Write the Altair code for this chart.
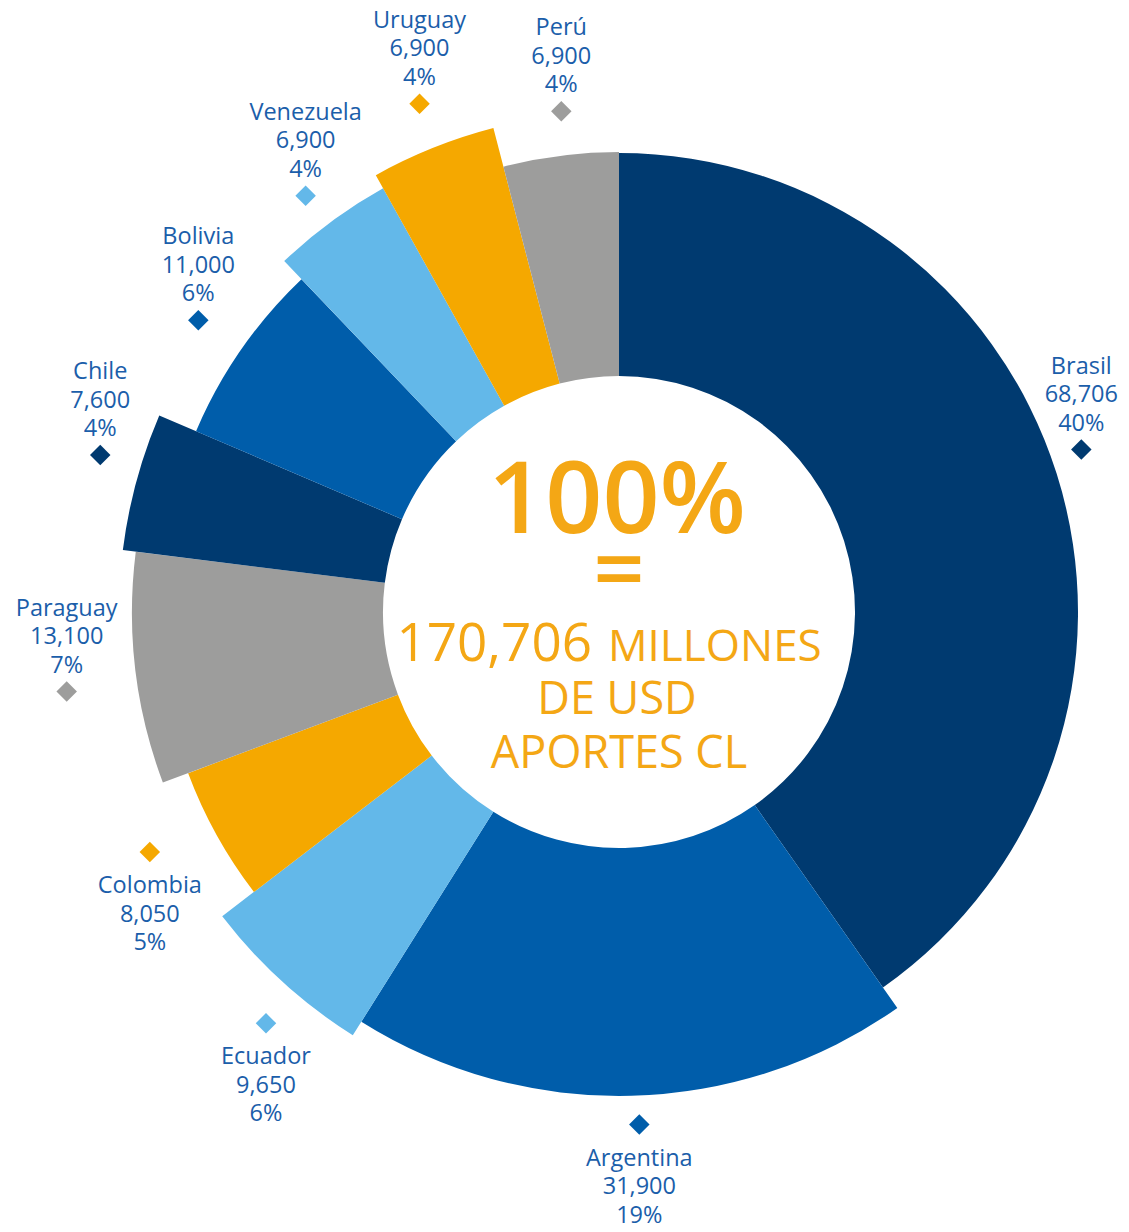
import altair as alt
import pandas as pd

countries = ["Brasil", "Argentina", "Ecuador", "Colombia", "Paraguay",
             "Chile", "Bolivia", "Venezuela", "Uruguay", "Perú"]
values = [68706, 31900, 9650, 8050, 13100, 7600, 11000, 6900, 6900, 6900]
value_labels = ["68,706", "31,900", "9,650", "8,050", "13,100",
                "7,600", "11,000", "6,900", "6,900", "6,900"]
pct_labels = ["40%", "19%", "6%", "5%", "7%", "4%", "6%", "4%", "4%", "4%"]
slice_colors = ["#003A70", "#005DAA", "#63B8E9", "#F5A800", "#9D9D9C",
                "#003A70", "#005DAA", "#63B8E9", "#F5A800", "#9D9D9C"]
outer_radius = [459, 484, 500, 460, 487, 500, 460, 485, 500, 460]
label_radius = [490, 513, 542, 527, 558, 542, 512, 521, 546, 504]
label_angle_nudge = [-1.8, -0.8, -1.7, 1.9, -1.5, 1.7, 0.0, -0.6, 0.4, 0.7]
label_side = ["above", "below", "below", "below", "above",
              "above", "above", "above", "above", "above"]

CX, CY = 611, 604
INNER = 236
FONT = "Open Sans"
LABEL_COLOR = "#1B5EAA"
ORANGE = "#F4A715"

df = pd.DataFrame({
    "idx": list(range(len(countries))),
    "country": countries,
    "value": values,
    "vlab": value_labels,
    "pct": pct_labels,
    "r_out": outer_radius,
    "r_lab": label_radius,
    "nudge": label_angle_nudge,
    "side": label_side,
})

base = alt.Chart(df).transform_joinaggregate(
    total="sum(value)"
).transform_window(
    cum="sum(value)", sort=[alt.SortField("idx", order="ascending")], frame=[None, 0]
).transform_calculate(
    t0="(datum.cum - datum.value) / datum.total * 2 * PI",
    t1="datum.cum / datum.total * 2 * PI",
).transform_calculate(
    tm="(datum.t0 + datum.t1) / 2 + datum.nudge * PI / 180",
).transform_calculate(
    px=f"{CX} + datum.r_lab * sin(datum.tm)",
    py=f"{CY} - datum.r_lab * cos(datum.tm)",
).transform_calculate(
    ty="datum.side == 'above' ? datum.py - 83 : datum.py + 34",
    label="datum.country + '\\n' + datum.vlab + '\\n' + datum.pct",
)

color = alt.Color("country:N", scale=alt.Scale(domain=countries, range=slice_colors), legend=None)

arcs = base.mark_arc(stroke=None).encode(
    theta=alt.Theta("t0:Q", scale=None, stack=None),
    theta2=alt.Theta2("t1:Q"),
    radius=alt.Radius("r_out:Q", scale=None),
    radius2=alt.value(INNER),
    x=alt.value(CX),
    y=alt.value(CY),
    color=color,
)

diamonds = base.mark_point(shape="diamond", filled=True, opacity=1, size=420).encode(
    x=alt.X("px:Q", scale=None),
    y=alt.Y("py:Q", scale=None),
    color=color,
)

labels = base.mark_text(
    font=FONT, fontSize=23.5, color=LABEL_COLOR, align="center", baseline="middle",
    lineBreak="\n", lineHeight=28.5,
).encode(
    x=alt.X("px:Q", scale=None),
    y=alt.Y("ty:Q", scale=None),
    text="label:N",
)

center_df = pd.DataFrame({"k": [0]})
cbase = alt.Chart(center_df)

t100 = cbase.mark_text(font=FONT, fontSize=100, fontWeight=600, color=ORANGE,
                       align="center", baseline="alphabetic", text="100%").encode(
    x=alt.value(609), y=alt.value(525))
teq = cbase.mark_text(font=FONT, fontSize=90, fontWeight=600, color=ORANGE,
                      align="center", baseline="alphabetic", text="=").encode(
    x=alt.value(CX), y=alt.value(593))
tnum = cbase.mark_text(font=FONT, fontSize=53, color=ORANGE,
                       align="right", baseline="alphabetic", text="170,706").encode(
    x=alt.value(584), y=alt.value(653))
tmill = cbase.mark_text(font=FONT, fontSize=44, color=ORANGE,
                        align="left", baseline="alphabetic", text="MILLONES").encode(
    x=alt.value(600), y=alt.value(653))
tde = cbase.mark_text(font=FONT, fontSize=45, color=ORANGE,
                      align="center", baseline="alphabetic", text="DE USD").encode(
    x=alt.value(CX - 2), y=alt.value(706))
tap = cbase.mark_text(font=FONT, fontSize=45, color=ORANGE,
                      align="center", baseline="alphabetic", text="APORTES CL").encode(
    x=alt.value(CX), y=alt.value(760))

chart = alt.layer(arcs, diamonds, labels, t100, teq, tnum, tmill, tde, tap).properties(
    width=1113, height=1216, padding=0, autosize=alt.AutoSizeParams(type="none"),
    background="white",
).configure_view(stroke=None)

chart.save("out.html", embed_options={"renderer": "svg", "actions": False})
